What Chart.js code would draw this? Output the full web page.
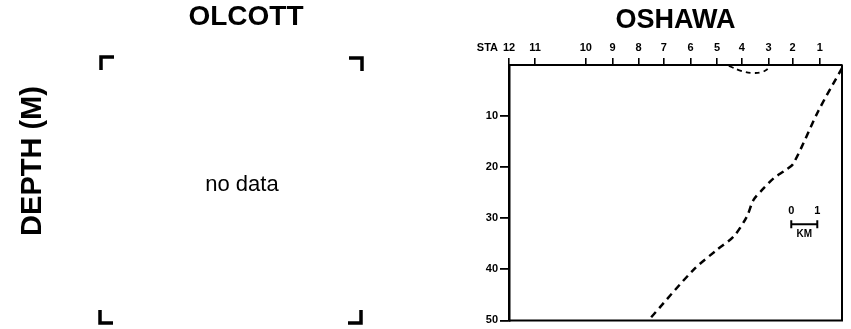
<!DOCTYPE html>
<html>
<head>
<meta charset="utf-8">
<script src="https://cdn.jsdelivr.net/npm/chart.js@4/dist/chart.umd.min.js"></script>
<style>
  html, body { margin: 0; padding: 0; background: #fff; }
  body { width: 851px; height: 329px; position: relative; overflow: hidden; }
  canvas { position: absolute; top: 0; }
  #olcott { left: 0; }
  #oshawa { left: 430px; }
</style>
</head>
<body>
<canvas id="olcott" width="492" height="329"></canvas>
<canvas id="oshawa" width="421" height="329"></canvas>
<script>
// Station numbers along the Oshawa transect and their distance (km) from station 12
const stationLabels = ['12', '11', '10', '9', '8', '7', '6', '5', '4', '3', '2', '1'];
const stationKm = [0, 1.0, 2.95, 3.98, 4.98, 5.95, 6.98, 8.0, 8.95, 9.98, 10.9, 11.95];

// Depth axis labels (m)
const depthTicks = [10, 20, 30, 40, 50];

// Dashed contour running down from the shore end of the transect
const contourKm = [12.8, 11.9, 10.93, 10.62, 10.17, 9.72, 9.40, 9.14, 8.63, 7.99, 7.09, 5.36];
const contourDepth = [0.6, 8.9, 19.3, 20.6, 22.2, 24.5, 26.4, 29.7, 33.6, 36.2, 40.1, 50];

// Shallow dashed dip near stations 4 and 3
const dipKm = [8.45, 8.95, 9.35, 9.75, 10.05];
const dipDepth = [0.2, 1.2, 1.55, 1.35, 0.4];

// Distance scale bar (km)
const scaleBarKm = [10.85, 11.85];
const scaleBarDepth = 31.2;

Chart.defaults.font.family = "'Liberation Sans', Arial, sans-serif";
Chart.defaults.color = '#000';

const toPoints = (xs, ys) => xs.map((x, i) => ({ x: x, y: ys[i] }));

// ---------- Olcott panel: empty frame marked "no data" ----------
const olcottDecor = {
  id: 'olcottDecor',
  afterDraw(chart) {
    const { ctx, chartArea: a } = chart;
    const arm = 13;
    ctx.save();
    ctx.strokeStyle = '#000';
    ctx.lineWidth = 3.5;
    ctx.lineCap = 'butt';
    ctx.beginPath();
    // top-left
    ctx.moveTo(a.left, a.top + arm); ctx.lineTo(a.left, a.top); ctx.lineTo(a.left + arm, a.top);
    // top-right
    ctx.moveTo(a.right - arm, a.top + 1); ctx.lineTo(a.right, a.top + 1); ctx.lineTo(a.right, a.top + arm + 1);
    // bottom-left
    ctx.moveTo(a.left - 1, a.bottom - arm); ctx.lineTo(a.left - 1, a.bottom); ctx.lineTo(a.left + arm - 1, a.bottom);
    // bottom-right
    ctx.moveTo(a.right - arm - 1, a.bottom); ctx.lineTo(a.right - 1, a.bottom); ctx.lineTo(a.right - 1, a.bottom - arm);
    ctx.stroke();

    ctx.fillStyle = '#000';
    ctx.textAlign = 'center';
    ctx.textBaseline = 'middle';

    // panel heading, set slightly right of the frame centre
    ctx.font = "bold 28px 'Liberation Sans', Arial, sans-serif";
    ctx.fillText('OLCOTT', 246, 17);

    ctx.font = "22px 'Liberation Sans', Arial, sans-serif";
    ctx.fillText('no data', a.left + (a.right - a.left) * 0.54, a.top + (a.bottom - a.top) * 0.48);

    // vertical depth label shared by both panels
    ctx.font = "bold 29px 'Liberation Sans', Arial, sans-serif";
    ctx.translate(33, 161);
    ctx.rotate(-Math.PI / 2);
    ctx.fillText('DEPTH (M)', 0, 0);
    ctx.restore();
  }
};

new Chart(document.getElementById('olcott'), {
  type: 'scatter',
  data: { datasets: [] },
  options: {
    responsive: false,
    animation: false,
    layout: { padding: { left: 101, right: 130, top: 57, bottom: 6 } },
    plugins: {
      legend: { display: false },
      tooltip: { enabled: false },
      title: { display: false }
    },
    scales: {
      x: { display: false, min: 0, max: 10 },
      y: { display: false, min: 0, max: 50, reverse: true }
    }
  },
  plugins: [olcottDecor]
});

// ---------- Oshawa panel: depth section along the station line ----------
const oshawaDecor = {
  id: 'oshawaDecor',
  afterDraw(chart) {
    const { ctx, chartArea: a, scales } = chart;
    const xs = scales.x, ys = scales.y;
    ctx.save();
    // right and bottom edges of the frame
    ctx.strokeStyle = '#000';
    ctx.lineWidth = 2;
    ctx.beginPath();
    ctx.moveTo(a.left, a.bottom); ctx.lineTo(a.right, a.bottom); ctx.lineTo(a.right, a.top);
    ctx.stroke();

    // "STA" prefix before the first station number
    ctx.fillStyle = '#000';
    ctx.font = "bold 11px 'Liberation Sans', Arial, sans-serif";
    ctx.textAlign = 'right';
    ctx.textBaseline = 'middle';
    ctx.fillText('STA', xs.getPixelForValue(stationKm[0]) - 11, 48.4);

    // 1 km scale bar
    const x0 = xs.getPixelForValue(scaleBarKm[0]);
    const x1 = xs.getPixelForValue(scaleBarKm[1]);
    const yb = ys.getPixelForValue(scaleBarDepth);
    ctx.lineWidth = 2;
    ctx.beginPath();
    ctx.moveTo(x0, yb); ctx.lineTo(x1, yb);
    ctx.moveTo(x0, yb - 4); ctx.lineTo(x0, yb + 4);
    ctx.moveTo(x1, yb - 4); ctx.lineTo(x1, yb + 4);
    ctx.stroke();
    ctx.textAlign = 'center';
    ctx.font = "bold 11px 'Liberation Sans', Arial, sans-serif";
    ctx.fillText('0', x0, yb - 13);
    ctx.fillText('1', x1, yb - 13);
    ctx.font = "bold 10px 'Liberation Sans', Arial, sans-serif";
    ctx.fillText('KM', (x0 + x1) / 2, yb + 10);
    ctx.restore();
  }
};

new Chart(document.getElementById('oshawa'), {
  type: 'scatter',
  data: {
    datasets: [
      {
        label: 'contour',
        data: toPoints(contourKm, contourDepth),
        showLine: true,
        borderColor: '#000',
        borderWidth: 2.5,
        borderDash: [7, 5],
        tension: 0.3,
        pointRadius: 0
      },
      {
        label: 'dip',
        data: toPoints(dipKm, dipDepth),
        showLine: true,
        borderColor: '#000',
        borderWidth: 1.8,
        borderDash: [5, 4],
        tension: 0.4,
        pointRadius: 0
      }
    ]
  },
  options: {
    responsive: false,
    animation: false,
    layout: { padding: { left: 0, right: 9, top: 0, bottom: 7 } },
    plugins: {
      legend: { display: false },
      tooltip: { enabled: false },
      title: {
        display: true,
        fullSize: false,
        text: 'OSHAWA',
        color: '#000',
        font: { size: 27, weight: 'bold', lineHeight: 1 },
        padding: { top: 7, bottom: 7 }
      }
    },
    scales: {
      x: {
        type: 'linear',
        position: 'top',
        min: 0,
        max: 12.8,
        afterBuildTicks: s => { s.ticks = stationKm.map(v => ({ value: v })); },
        afterFit: s => { s.height = 24; },
        ticks: {
          autoSkip: false,
          maxRotation: 0,
          padding: 3,
          color: '#000',
          font: { size: 11, weight: 'bold', lineHeight: 1.2 },
          callback: (v, i) => stationLabels[i]
        },
        grid: { drawOnChartArea: false, tickLength: 7, color: '#000', lineWidth: 1.6 },
        border: { color: '#000', width: 2 }
      },
      y: {
        type: 'linear',
        position: 'left',
        min: 0,
        max: 50,
        reverse: true,
        afterBuildTicks: s => { s.ticks = depthTicks.map(v => ({ value: v })); },
        afterFit: s => { s.width = 79; },
        ticks: {
          padding: 2,
          color: '#000',
          font: { size: 11, weight: 'bold', lineHeight: 1.2 },
          callback: v => String(v)
        },
        grid: { drawOnChartArea: false, tickLength: 9, color: '#000', lineWidth: 1.8 },
        border: { color: '#000', width: 2.5 }
      }
    }
  },
  plugins: [oshawaDecor]
});
</script>
</body>
</html>
